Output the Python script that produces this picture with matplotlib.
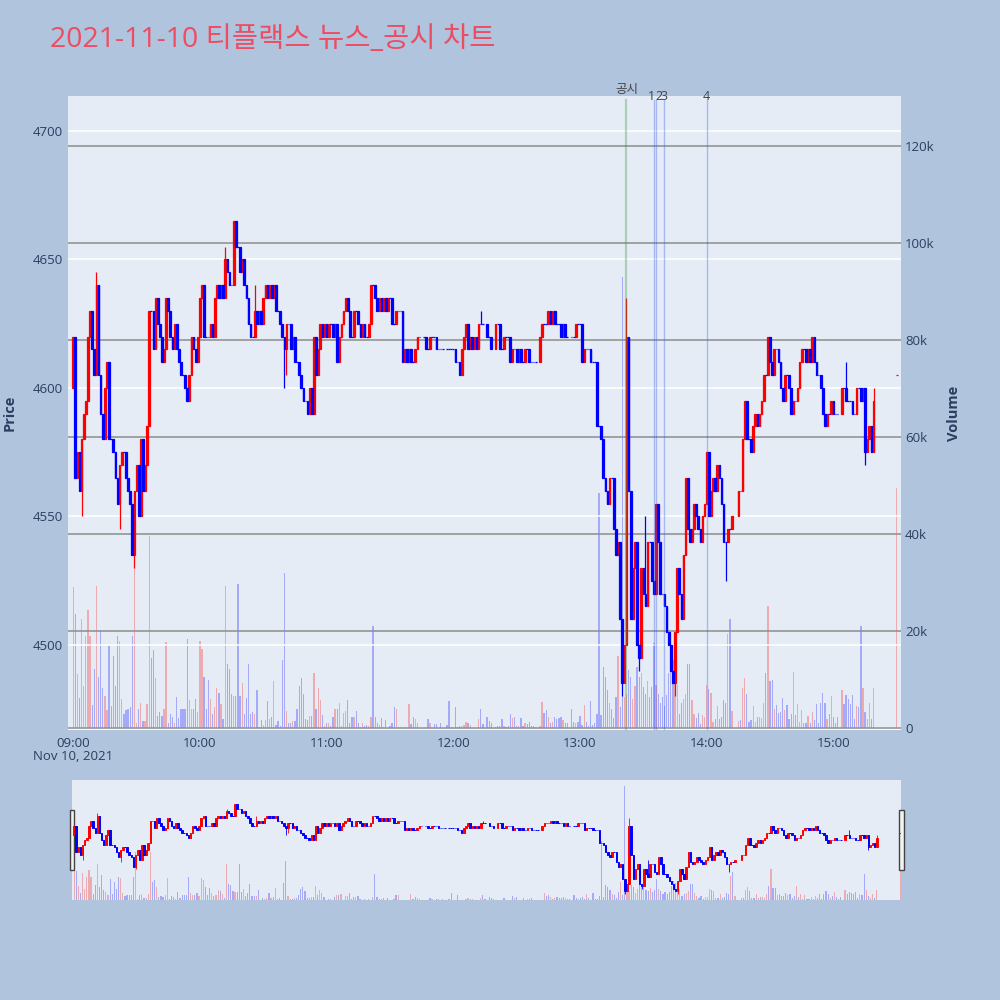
import numpy as np
import matplotlib
matplotlib.use("Agg")
import matplotlib.pyplot as plt
from matplotlib.patches import Rectangle
from matplotlib.transforms import blended_transform_factory, offset_copy

plt.rcParams['font.family'] = ['Open Sans', 'Noto Sans CJK KR', 'DejaVu Sans']

nan = float('nan')

TITLE = "2021-11-10 티플랙스 뉴스_공시 차트"

# 1분봉 종가 09:00 ~ 15:19 (nan = 체결 없음)
closes = [
    # 09:00 ~ 10:01
    4620, 4565, 4575, 4560, 4580, 4590, 4595, 4620, 4630, 4615,
    4605, 4640, 4605, 4590, 4580, 4600, 4610, 4580, 4580, 4575,
    4565, 4555, 4570, 4575, 4575, 4565, 4560, 4555, 4535, 4560,
    4570, 4550, 4580, 4560, 4570, 4585, 4630, 4630, 4615, 4635,
    4625, 4620, 4610, 4615, 4635, 4630, 4620, 4615, 4625, 4615,
    4610, 4605, 4605, 4600, 4595, 4605, 4620, 4615, 4610, 4620,
    4635, 4640,
    # 10:02 ~ 11:06
    4620, 4620, 4620, 4625, 4620, 4635, 4640, 4635, 4640, 4635,
    4650, 4645, 4640, 4640, 4665, 4655, 4655, 4645, 4650, 4640,
    4635, 4625, 4620, 4620, 4630, 4625, 4630, 4625, 4635, 4640,
    4635, 4640, 4635, 4640, 4630, 4630, 4625, 4620, 4615, 4625,
    4625, 4615, 4620, 4610, 4610, 4605, 4600, 4595, 4595, 4590,
    4600, 4590, 4620, 4605, 4615, 4625, 4620, 4625, 4620, 4625,
    4625, 4620, 4625, 4610, 4620,
    # 11:07 ~ 12:10
    4625, 4630, 4635, 4630, 4620, 4620, 4630, 4630, 4625, 4620,
    4625, 4620, 4620, 4625, 4640, 4640, 4635, 4630, 4635, 4630,
    4635, 4630, 4635, 4635, 4625, 4625, 4630, 4630, 4630, 4610,
    4615, 4610, 4615, 4610, 4610, 4615, 4620, 4620, nan, 4620,
    4615, 4615, 4620, 4620, 4620, 4615, 4615, 4615, 4615, nan,
    4615, 4615, 4615, 4615, 4610, 4610, 4605, 4615, 4620, 4625,
    4615, 4620, 4615, 4620,
    # 12:11 ~ 13:11
    4615, 4625, 4625, 4625, nan, 4620, 4620, 4615, nan, 4625,
    4625, 4615, 4615, 4620, 4620, 4620, 4610, 4615, 4615, 4610,
    4615, 4610, 4610, 4615, 4615, 4610, 4610, 4610, 4610, nan,
    4620, 4625, 4625, 4625, 4630, 4625, 4630, 4625, 4625, 4625,
    4620, 4625, 4620, 4620, nan, 4620, 4620, 4625, 4625, 4625,
    4610, 4615, 4615, 4615, 4610, 4610, 4610, 4585, 4585, 4580,
    4565,
    # 13:12 ~ 14:18
    4560, 4555, 4565, 4565, 4545, 4535, 4540, 4510, 4485, 4500,
    4620, 4560, 4510, 4530, 4540, 4500, 4495, 4530, 4520, 4515,
    4540, 4540, 4525, 4520, 4555, 4540, 4520, 4520, 4515, 4505,
    4500, 4490, 4485, 4505, 4530, 4520, 4510, 4535, 4565, 4545,
    4540, 4545, 4555, 4550, 4545, 4540, 4550, 4555, 4575, 4550,
    4560, 4565, 4560, 4570, 4565, 4555, 4540, 4540, 4545, 4545,
    4550, nan, nan, 4560, 4560, 4580, 4595,
    # 14:19 ~ 15:19
    4580, 4580, 4575, 4585, 4590, 4585, 4590, 4595, 4605, 4605,
    4620, 4610, 4605, 4615, 4615, 4610, 4600, 4595, 4605, 4605,
    4600, 4590, 4595, 4595, 4600, 4610, 4615, 4615, 4610, 4615,
    4610, 4620, 4610, 4605, 4605, 4600, 4590, 4585, 4590, 4590,
    4595, 4590, 4590, 4590, nan, 4600, 4600, 4595, 4595, 4595,
    4590, 4590, 4600, 4600, 4595, 4600, 4575, 4580, 4585, 4575,
    4595,
]

# 거래량 (천 주)
volumes_k = [
    29, 23.6, 11.2, 6.1, 22.4, 8.7, 19, 24.4, 19, 4.8,
    12.1, 29.3, 10.6, 20.3, 8.2, 6.6, 3.7, 17, 4.6, 14.8,
    8.7, 18.9, 17.9, 5.9, 3, 3.7, 4, 4.4, 18.9, 39.3,
    1.1, 4, 5.1, 1.5, 1.5, 5, 39.5, 14.4, 16.1, 10.3,
    2.5, 3.4, 2.5, 3.9, 17.7, 1, 2.9, 2.2, 1, 6.3,
    2, 3.9, 3.9, 3.9, 18.4, 5.8, 4, 4, 5.9, 3.4,
    17.9, 16.3,

    10.5, 3.9, 9.9, 5.9, 2.9, 4.4, 8.2, 7.2, 5, 1.8,
    29.3, 13.2, 12.1, 7, 6.6, 6.6, 29.6, 6.6, 9.2, 2.9,
    6.1, 13.2, 2.9, 3.4, 2.9, 7.9, 0.3, 1.7, 0.6, 1.7,
    5.5, 1.8, 2.2, 9.6, 0.6, 1.4, 0.4, 14.1, 32, 3.5,
    1, 1.1, 1.4, 1.5, 3.9, 8.7, 10.3, 7, 1.9, 1.7,
    2.5, 2.5, 11.3, 3.9, 8.3, 5.7, 2.7, 0.4, 1, 1,
    0.4, 2.3, 3.9, 3.9, 5.2,

    0.4, 3.2, 3.6, 5.8, 1.1, 2.2, 2.2, 3.6, 1, 0.3,
    1.1, 0.4, 0.6, 0.4, 2.3, 21, 2.2, 1, 0.6, 2,
    0.3, 1.7, 0.1, 0.4, 1, 4.3, 3.9, 0.3, 0.3, 0.1,
    0.3, 0.1, 5, 0.8, 2.2, 1.8, 1.1, 0.1, 1, 0.1,
    0.1, 1.8, 1, 0.1, 0.8, 0.8, 0.1, 1.1, 0.1, 0.6,
    0.6, 5.5, 0.3, 0.1, 4.4, 0.3, 0.4, 0.4, 0.6, 1.3,
    1.1, 0.6, 0.1, 0.1,

    0.1, 1.8, 3.9, 0.8, 0.8, 2.2, 1.5, 1.1, 1.1, 0.3,
    0.4, 0.4, 1.8, 0.4, 0.3, 0.4, 2.9, 2, 2.2, 0.4,
    0.4, 2, 0.4, 1, 0.8, 1.3, 0.4, 0.4, 0.3, 3,
    0.4, 5.4, 3.2, 3.7, 2.2, 1, 1.3, 2.2, 1.8, 2,
    2.2, 1.7, 1.1, 1.1, 1.3, 4, 1.3, 1, 1.3, 2.5,
    0.6, 4.7, 1.3, 0.4, 5.6, 0.6, 1, 2.9, 48.4, 2.7,
    12.6,

    10.6, 7.8, 5.1, 4, 2, 6.5, 14.8, 4.4, 93, 6.3,
    7.1, 12, 10.6, 5.9, 8.7, 12.5, 10.6, 11.3, 8.5, 7.1,
    9.8, 6.5, 8.5, 17.5, 8.9, 7.1, 5.1, 6.5, 4.5, 6.8,
    11.3, 15.4, 14, 11, 8.9, 3, 5.1, 5.9, 7.1, 13.2,
    13.2, 5.8, 3, 2, 3.2, 0.8, 2.7, 2.3, 8.9, 8,
    7.3, 1.3, 1.8, 4.6, 1.8, 2.3, 5.7, 5.2, 19.3, 22.5,
    3.6, 2.7, 1.1, 1.5, 1.7, 8.2, 10.3,

    7, 1.3, 1.7, 4.6, 1.3, 2.3, 2.3, 2, 5.2, 11.3,
    25.1, 9.6, 10, 3.9, 4.8, 3.2, 3.4, 6.1, 3.7, 4.8,
    1.8, 3, 11.5, 2.7, 5, 1.2, 3.7, 1, 1.1, 2.5,
    1.1, 3.4, 1.7, 5, 1, 5.2, 7.2, 5.2, 1.8, 2.9,
    6.6, 2.3, 1.1, 2.3, 3.7, 7.9, 5, 6.8, 5.9, 5,
    6.8, 1.8, 4.6, 4.4, 21, 8.2, 3.4, 1.8, 5.1, 1.8,
    8.2,
]

first_open = 4600
auction_minute = 390      # 15:30 종가 단일가
auction_price = 4605
auction_volume_k = 49.5

# 꼬리 (분 인덱스, 가격)
high_idx = [11, 72, 86, 193, 262, 271, 366, 379]
high_val = [4645, 4655, 4640, 4630, 4635, 4550, 4610, 4600]
low_idx = [4, 22, 29, 100, 101, 260, 268, 285, 309, 375]
low_val = [4550, 4545, 4530, 4600, 4605, 4480, 4490, 4480, 4525, 4570]

event_labels = ["공시", "1", "2", "3", "4"]
event_times = ["13:22", "13:35", "13:36", "13:40", "14:00"]

hour_labels = ["09:00", "10:00", "11:00", "12:00", "13:00", "14:00", "15:00"]
price_ticks = [4500, 4550, 4600, 4650, 4700]
volume_ticks = [0, 20000, 40000, 60000, 80000, 100000, 120000]
volume_labels = ["0", "20k", "40k", "60k", "80k", "100k", "120k"]

BG = "#B0C4DE"
PLOT_BG = "#E5ECF6"
TICK_COLOR = "#2a3f5f"
UP, DOWN = "#FF0000", "#0000FF"


def to_minute(hhmm):
    h, m = hhmm.split(":")
    return (int(h) - 9) * 60 + int(m)


# 시가 = 직전 체결 종가
close = np.array(closes, dtype=float)
minute = np.arange(len(close), dtype=float)
open_ = np.empty_like(close)
last = first_open
for i, c in enumerate(close):
    open_[i] = last
    if not np.isnan(c):
        last = c
high = np.fmax(open_, close)
low = np.fmin(open_, close)
for i, v in zip(high_idx, high_val):
    high[i] = v
for i, v in zip(low_idx, low_val):
    low[i] = v
vol = np.array(volumes_k) * 1000
up = close > open_

ok = ~np.isnan(close)
x = np.append(minute[ok], auction_minute)
o = np.append(open_[ok], auction_price)
c = np.append(close[ok], auction_price)
h = np.append(high[ok], auction_price)
l = np.append(low[ok], auction_price)
v = np.append(vol[ok], auction_volume_k * 1000)
up = np.append(up[ok], True)


def draw_candles(ax, axv, body_w, body_lw, wick_lw, vol_w):
    for mask, col in ((up, UP), (~up, DOWN)):
        axv.bar(x[mask], v[mask], width=vol_w, color=col, alpha=0.28, lw=0)
        ax.vlines(x[mask], l[mask], h[mask], color=col, lw=wick_lw, zorder=3)
        ax.bar(x[mask], c[mask] - o[mask], bottom=o[mask], width=body_w,
               color=col, edgecolor=col, lw=body_lw, zorder=3)


fig = plt.figure(figsize=(10, 10), dpi=100, facecolor=BG)

# 메인 차트
ax = fig.add_axes([0.068, 0.270, 0.833, 0.634])
axv = ax.twinx()
ax.set_zorder(axv.get_zorder() + 1)
ax.patch.set_visible(False)
axv.patch.set_visible(True)
axv.patch.set_facecolor(PLOT_BG)

draw_candles(ax, axv, body_w=0.8, body_lw=0.9, wick_lw=0.9, vol_w=0.6)

ax.set_xlim(-2.46, 392.0)
ax.set_ylim(4466.9, 4713.6)
axv.set_ylim(-400, 130300)

ax.set_xticks([to_minute(t) for t in hour_labels], hour_labels)
ax.set_yticks(price_ticks, [str(p) for p in price_ticks])
axv.set_yticks(volume_ticks, volume_labels)
ax.tick_params(axis='x', length=0, pad=5, labelsize=9.5, labelcolor=TICK_COLOR)
ax.tick_params(axis='y', length=0, pad=4, labelsize=9.5, labelcolor=TICK_COLOR)
axv.tick_params(axis='y', length=0, pad=3, labelsize=9.5, labelcolor=TICK_COLOR)

ax.set_axisbelow(True)
ax.grid(axis='y', color='white', lw=1.1)
axv.grid(axis='y', color='#8c8c8c', lw=1.1)
axv.axhline(0, color='white', lw=2, zorder=0.5)
for a in (ax, axv):
    for s in a.spines.values():
        s.set_visible(False)

# 뉴스/공시 세로선
trans = blended_transform_factory(ax.transData, ax.transAxes)
label_shift = {"1": -2.0, "2": 2.0}
for label, t in zip(event_labels, event_times):
    m = to_minute(t)
    if label == "공시":
        ax.axvline(m, ymin=0, ymax=0.994, color='#3a9a3a', alpha=0.35, lw=1.6, zorder=4)
        ax.text(m, 1.0095, label, transform=trans, ha='center', va='center',
                fontsize=9, color='#444444', clip_on=False)
    else:
        ax.axvline(m, ymin=0, ymax=0.994, color='#3355ee', alpha=0.35, lw=1.0, zorder=4)
        tt = offset_copy(trans, fig=fig, x=label_shift.get(label, 0.0), y=0, units='points')
        ax.text(m, 0.9985, label, transform=tt, ha='center', va='center',
                fontsize=9, color='#444444', clip_on=False)

# 레인지 슬라이더
axs = fig.add_axes([0.0724, 0.100, 0.8286, 0.120])
axsv = axs.twinx()
axs.set_zorder(axsv.get_zorder() + 1)
axs.patch.set_visible(False)
axsv.patch.set_visible(True)
axsv.patch.set_facecolor(PLOT_BG)
draw_candles(axs, axsv, body_w=0.7, body_lw=0.7, wick_lw=0.6, vol_w=0.55)
axs.set_xlim(-0.8, 390.4)
axs.set_ylim(4466.9, 4713.6)
axsv.set_ylim(0, 98000)
for a in (axs, axsv):
    a.set_xticks([])
    a.set_yticks([])
    for s in a.spines.values():
        s.set_visible(False)

for hx in (0.0695, 0.8990):
    fig.add_artist(Rectangle((hx, 0.130), 0.0045, 0.060, transform=fig.transFigure,
                             facecolor='#f2f2f2', edgecolor='#444444', lw=1))

fig.text(0.050, 0.960, TITLE, color='#EC4D63', fontsize=20.5, ha='left', va='center')
fig.text(0.0735, 0.243, "Nov 10, 2021", color=TICK_COLOR, fontsize=9.5, ha='center', va='center')
fig.text(0.010, 0.587, "Price", color=TICK_COLOR, fontsize=10.5, fontweight='bold',
         rotation=90, ha='center', va='center')
fig.text(0.954, 0.587, "Volume", color=TICK_COLOR, fontsize=10.5, fontweight='bold',
         rotation=90, ha='center', va='center')

fig.savefig("out.png", dpi=100, facecolor=BG)
